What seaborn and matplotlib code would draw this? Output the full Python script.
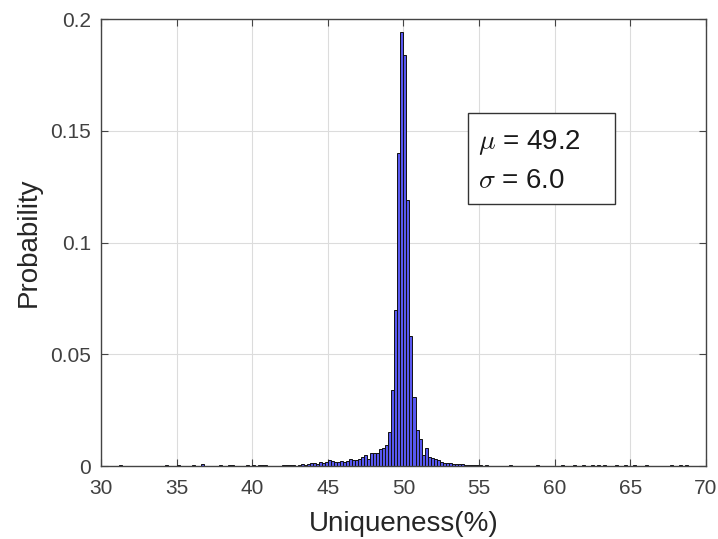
import numpy as np
import pandas as pd
import seaborn as sns
import matplotlib.pyplot as plt
from matplotlib.patches import Rectangle
from matplotlib.ticker import FuncFormatter

# histogram of uniqueness, bin width 0.2 (probability per bin)
bin_width = 0.2
core_start = 43.0
core_prob = [0.0005, 0.0008, 0.0006, 0.0010, 0.0012, 0.0014, 0.0010, 0.0016,
             0.0012, 0.0020, 0.0026, 0.0022, 0.0018, 0.0020, 0.0024, 0.0020,
             0.0022, 0.0030, 0.0025, 0.0028, 0.0030, 0.0040, 0.0050, 0.0031,
             0.0058, 0.0058, 0.0058, 0.0076, 0.0080, 0.0094, 0.0154, 0.0340,
             0.0700, 0.1400, 0.1940, 0.1840, 0.1190, 0.0580, 0.0310, 0.0160,
             0.0120, 0.0050, 0.0080, 0.0040, 0.0035, 0.0030, 0.0025, 0.0020,
             0.0015, 0.0015, 0.0012, 0.0010, 0.0010, 0.0008, 0.0008, 0.0006,
             0.0006, 0.0004, 0.0003, 0.0003]

# sparse bins in the tails (left edge, probability)
tail_left = [31.2, 34.2, 35.0, 36.0, 36.6, 37.8, 38.4, 38.6, 39.6, 40.0,
             40.4, 40.6, 40.8, 42.0, 42.2, 42.4, 42.6,
             55.0, 55.4, 57.0, 58.8, 60.4, 61.2, 61.8, 62.4, 62.8, 63.2,
             64.0, 64.6, 65.2, 66.0, 67.6, 68.2, 68.6]
tail_prob = [0.0006, 0.0005, 0.0005, 0.0004, 0.0010, 0.0005, 0.0006, 0.0005,
             0.0004, 0.0006, 0.0005, 0.0005, 0.0004, 0.0004, 0.0005, 0.0004,
             0.0005,
             0.0004, 0.0006, 0.0006, 0.0005, 0.0006, 0.0005, 0.0004, 0.0004,
             0.0004, 0.0006, 0.0006, 0.0004, 0.0004, 0.0004, 0.0004, 0.0005,
             0.0004]

mu_txt = "49.2"
sigma_txt = "6.0"

core_left = core_start + bin_width * np.arange(len(core_prob))
df = pd.DataFrame({
    "left": np.concatenate([tail_left, core_left]),
    "prob": np.concatenate([tail_prob, core_prob]),
})
df["center"] = df["left"] + bin_width / 2
edges = np.round(np.arange(30, 70 + bin_width / 2, bin_width), 2).tolist()

sns.set_style("whitegrid")
plt.rcParams['font.family'] = ['Liberation Sans', 'DejaVu Sans']
plt.rcParams['mathtext.fontset'] = 'cm'

fig = plt.figure(figsize=(7.18, 5.39), dpi=100)
ax = fig.add_axes([0.1407, 0.1354, 0.8423, 0.8293])

sns.histplot(data=df, x="center", weights="prob", bins=edges, stat="count",
             color="#5858f0", edgecolor="#111111", linewidth=0.7, alpha=1,
             ax=ax)

ax.set_xlim(30, 70)
ax.set_ylim(0, 0.2)
ax.set_xticks(np.arange(30, 71, 5))
ax.set_yticks([0, 0.05, 0.1, 0.15, 0.2])
ax.yaxis.set_major_formatter(FuncFormatter(lambda v, p: "%g" % v))
ax.grid(True, color="#dcdcdc", linewidth=0.8)
ax.set_axisbelow(True)
for s in ax.spines.values():
    s.set_visible(True)
    s.set_color("#444444")
    s.set_linewidth(1.0)
ax.tick_params(direction="in", length=5, width=0.8, color="#444444",
               labelsize=15, labelcolor="#404040", top=True, right=True,
               bottom=True, left=True)
ax.tick_params(axis="x", pad=9.5)
ax.tick_params(axis="y", pad=7)

ax.set_xlabel("Uniqueness(%)", fontsize=20, color="#262626", labelpad=9)
ax.set_ylabel("Probability", fontsize=20, color="#262626", labelpad=6)

# annotation box with the statistics
ax.add_patch(Rectangle((0.607, 0.586), 0.243, 0.204, transform=ax.transAxes,
                       facecolor="white", edgecolor="#333333", lw=1,
                       zorder=5))
ax.text(0.623, 0.709, "$\\mu$ = " + mu_txt, transform=ax.transAxes,
        fontsize=20, va="baseline", ha="left", color="#1a1a1a", zorder=6)
ax.text(0.623, 0.622, "$\\sigma$ = " + sigma_txt, transform=ax.transAxes,
        fontsize=20, va="baseline", ha="left", color="#1a1a1a", zorder=6)

fig.savefig("out.png", dpi=100)
